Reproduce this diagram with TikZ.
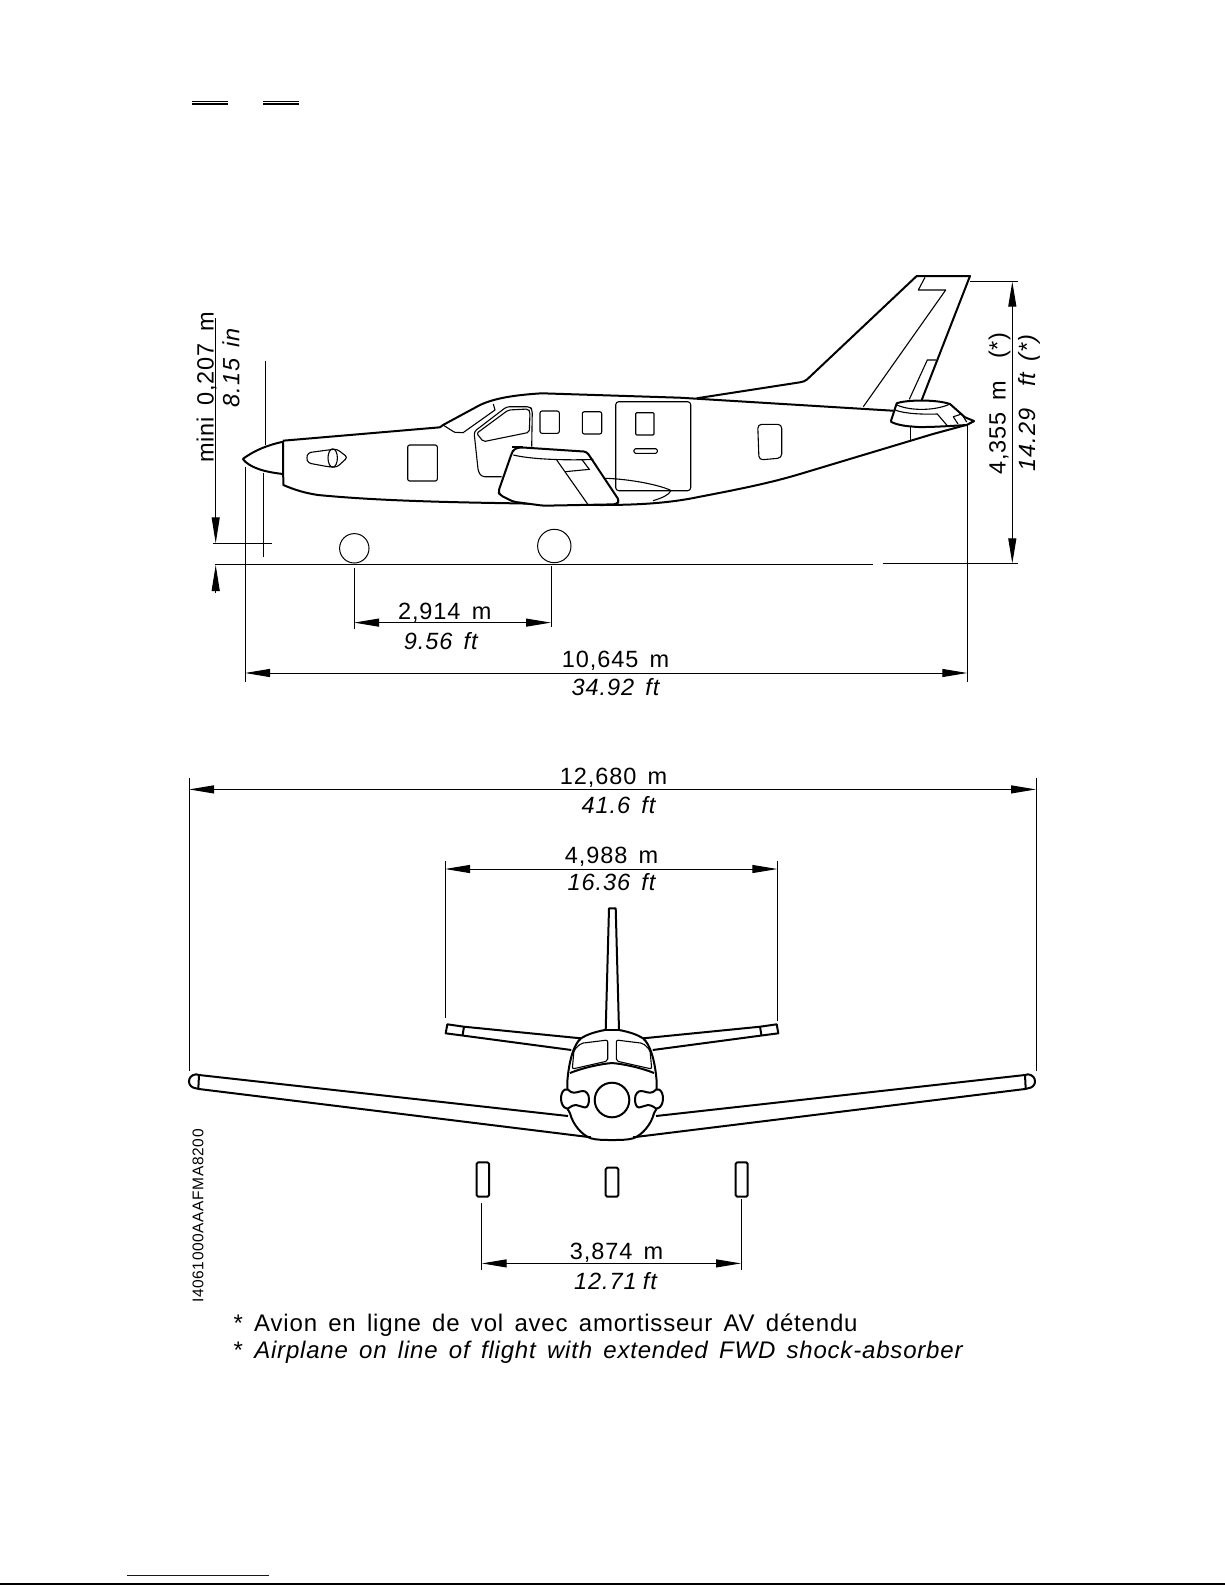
\documentclass[tikz,border=0pt]{standalone}
\usepackage{fontspec}
\setmainfont{Liberation Sans}[LetterSpace=4,WordSpace=1.5]
\definecolor{linkblue}{RGB}{0,0,205}
\usetikzlibrary{arrows.meta}
\tikzset{
  hull/.style={line width=2, line join=round},
  thin part/.style={line width=1.1, line join=round},
  leader/.style={line width=1},
  dimline/.style={line width=1, {Triangle[length=25,width=8]}-{Triangle[length=25,width=8]}},
  dimend/.style={line width=1, -{Triangle[length=26,width=8]}},
  dimlabel/.style={font=\fontsize{23.5}{25}\selectfont, inner sep=0},
  dimslant/.style={font=\fontsize{23.5}{25}\selectfont\itshape, inner sep=0},
  footnote/.style={font=\fontsize{24}{26}\selectfont\addfontfeature{LetterSpace=3.4}, inner sep=0, anchor=west},
  smallref/.style={font=\fontsize{15.5}{16}\selectfont, inner sep=0, rotate=90}
}

\begin{document}
\begin{tikzpicture}[x=1pt,y=-1pt]
  \useasboundingbox (0,0) rectangle (1225,1585);

  % page marks
  \fill (192,100.5) rectangle (228,101.5);
  \fill (192,103) rectangle (228,105.2);
  \fill (263,100.5) rectangle (299,101.5);
  \fill (263,103) rectangle (299,105.2);
  \draw[linkblue, line width=1] (127,1575.3) -- (269,1575.3);
  \draw[line width=1.6] (0,1584.2) -- (1225,1584.2);

  % side view: hull
  \draw[hull] (242.7,459) .. controls (255,450) and (268,445) .. (283,441.7) -- (283.3,485)
    .. controls (295,490) and (305,493) .. (318,495) .. controls (370,500) and (430,502) .. (513,503.3)
    -- (600,505) .. controls (640,505) and (670,503) .. (700,496.7) .. controls (740,489) and (770,483) .. (800,474)
    -- (933,434) -- (966,425) -- (974,421);
  \draw[hull] (242.7,459) .. controls (250,468) and (265,472) .. (283,474);
  \draw[hull] (283,440.7) -- (440,427.3) -- (443,425) -- (480,405)
    .. controls (495,398) and (515,395) .. (541.7,393.3) -- (680,397.7) -- (893,410.7);
  % side view: fin
  \draw[hull] (696.7,398.3) -- (800,382.3) .. controls (803,382) and (805,381) .. (807,379.5) -- (916.7,276) -- (970,276) -- (921.7,400);
  \draw[thin part] (925,277.3) -- (918.3,290) -- (945.7,290) -- (863.3,406.7);
  \draw[thin part] (909.3,399.3) -- (927.3,360) -- (936,360);
  % side view: stabilizer end
  \draw[hull, fill=white] (890.7,421.7) -- (896.7,403.3) .. controls (905,400) and (935,399) .. (950,404)
    -- (965,417.3) -- (974,421) -- (966.7,425) .. controls (950,426) and (920,428) .. (912,426.5) .. controls (903,426) and (895,424) .. (890.7,421.7);
  \draw[thin part] (897,405) .. controls (910,411) and (935,411) .. (950,404);
  \draw[thin part] (895,410) .. controls (905,414) and (925,414.5) .. (937.3,414) -- (947.3,425.7);
  \draw[thin part] (958,424) -- (953.3,416.7) -- (961.7,414) -- (966.7,422);
  \draw[thin part] (910.7,426.7) -- (910.7,441.7);
  % side view: cabin
  \draw[thin part, rounded corners=2] (407.7,445) rectangle (437.3,481);
  \draw[thin part, rounded corners=3] (308,452.7) -- (328,450) -- (336.7,449) -- (347.7,457.3) -- (336.7,467.3) -- (328,466.7) -- (308,463) -- (306.5,458) -- cycle;
  \draw[thin part] (332.7,458) ellipse (4.7 and 9.2);
  \draw[thin part] (443,425) .. controls (448,428) and (452,431) .. (455,432.3) -- (463,432.7) -- (495,410) -- (493.3,404);
  \draw[thin part, rounded corners=3] (501.7,476.7) -- (481.7,476.7) -- (478.3,471.7) -- (474,431.7) -- (506.7,406.7) -- (530,406.7) -- (532.3,410) -- (531.7,446.7);
  \draw[thin part, rounded corners=2] (476.7,433.3) -- (508.3,410) -- (528.3,409) -- (530,411.7) -- (529.3,432.3) -- (483.3,441.7) -- cycle;
  \draw[thin part, rounded corners=2] (540,411) rectangle (559.3,433.3);
  \draw[thin part, rounded corners=2] (582.3,411.7) rectangle (601.7,434);
  \draw[thin part, rounded corners=3] (615.7,401.7) rectangle (690.7,490.7);
  \draw[thin part, rounded corners=1] (635.7,412.7) rectangle (654,435);
  \draw[thin part, rounded corners=1.5] (634,448.7) rectangle (657.3,453.3);
  \draw[thin part, rounded corners=4] (757.7,424.3) -- (781.7,424.3) -- (781.7,458) -- (759,460) -- cycle;
  \draw[thin part] (605,478.3) .. controls (630,479) and (660,485) .. (671,490.5) .. controls (669,495) and (662,498) .. (653,500.7);
  % side view: wing
  \draw[hull, fill=white, rounded corners=3] (511.7,453.3) -- (514,449) -- (520,447.3) -- (586.7,451.7) -- (619.3,500.7) -- (616.7,504.3)
    -- (543.3,505.7) -- (513.3,501.7) -- (500,495) -- (498.3,491.7) -- cycle;
  \draw[thin part] (513.3,455) .. controls (530,459) and (560,460.5) .. (593.3,459.5);
  \draw[thin part] (556.7,460) -- (588.3,505);
  \draw[thin part] (565,471.7) -- (590,469.3);
  \draw[thin part] (581.7,459.3) -- (589.3,469.3);
  \draw[hull] (511.7,446.5) -- (523,446.5);
  % side view: wheels and ground
  \node[draw, circle, leader, minimum size=29.4, inner sep=0] (frontwheel) at (354.3,548.3) {};
  \node[draw, circle, leader, minimum size=33.4, inner sep=0] (mainwheel) at (554.3,546) {};
  \coordinate (groundL) at (215,564.3);
  \coordinate (groundM) at (873.3,564.3);
  \coordinate (groundN) at (882.7,563.7);
  \coordinate (groundR) at (1017.7,563.7);
  \draw[leader] (groundL) -- (groundM);
  \draw[leader] (groundN) -- (groundR);

  % side view: dimensions
  \coordinate (miniTop) at (215.7,318.3);
  \coordinate (miniA) at (215.7,543.3);
  \coordinate (miniB) at (215.7,565);
  \coordinate (miniEnd) at (215.7,593.3);
  \draw[dimend] (miniTop) -- (miniA);
  \draw[dimend] (miniEnd) -- (miniB);
  \draw[leader] (213.3,543.3) -- (272.3,543.3);
  \draw[leader] (265.3,360.7) -- (265.3,445);
  \draw[leader] (263.3,473.3) -- (263.3,557.3);
  \node[dimlabel, rotate=90] (miniM) at (206.5,387.5) {mini 0,207 m};
  \node[dimslant, rotate=90] (miniIn) at (231,367.5) {8.15 in};

  \coordinate (baseA) at (354,622.6);
  \coordinate (baseB) at (551,622.6);
  \draw[leader] (354,568.3) -- (354,628.7);
  \draw[leader] (551,566) -- (551,626.6);
  \draw[dimline] (baseA) -- (baseB);
  \node[dimlabel] (baseM) at (444.7,612.5) {2,914 m};
  \node[dimslant] (baseFt) at (440.7,641) {9.56 ft};

  \coordinate (lengthA) at (245,673);
  \coordinate (lengthB) at (967.3,673);
  \draw[leader] (245,466.7) -- (245,682);
  \draw[leader] (967.3,425) -- (967.3,682);
  \draw[dimline] (lengthA) -- (lengthB);
  \node[dimlabel] (lengthM) at (615.5,661) {10,645 m};
  \node[dimslant] (lengthFt) at (615.5,687) {34.92 ft};

  \coordinate (heightA) at (1012.3,281.7);
  \coordinate (heightB) at (1012.3,563.3);
  \draw[leader] (970,281.7) -- (1017.7,281.7);
  \draw[dimline] (heightA) -- (heightB);
  \node[dimlabel, rotate=90] (heightM) at (999.5,403.5) {4,355 m\ \ (*)};
  \node[dimslant, rotate=90] (heightFt) at (1029,403) {14.29\ \ ft (*)};

  % front view, both halves from the centre line
  \begin{scope}[shift={(612,0)}]
    \foreach \sgn in {1,-1} {
      \begin{scope}[xscale=\sgn]
        % wing
        \draw[hull] (44,1116) -- (413,1075) -- (416,1074.3) .. controls (421,1075) and (423,1078) .. (423,1081.7)
          .. controls (423,1085) and (420,1088) .. (416,1088.3) -- (413,1089) -- (21,1137.3);
        \draw[hull] (413,1075) -- (413.7,1089);
        % stabilizer
        \draw[hull] (31.3,1038.3) -- (148,1026.7) -- (164.7,1024.3) -- (166.3,1033.3) -- (148,1035.7) -- (40.7,1050);
        \draw[hull] (148,1026.7) -- (149.5,1035.7);
        % fuselage side
        \draw[hull] (7,1030) .. controls (18,1032) and (26,1035) .. (31,1038.3) .. controls (38,1044) and (43,1060) .. (44.7,1081.7) -- (44.7,1090);
        \draw[hull] (44.7,1108.3) -- (42,1113.3) .. controls (39,1125) and (30,1135) .. (21.3,1138.3) .. controls (15,1140) and (8,1140) .. (0,1140);
        % engine lobe
        \draw[hull, fill=white] (23,1099) .. controls (23,1094) and (26,1091) .. (29,1091)
          .. controls (33,1091) and (37,1094) .. (41,1092) .. controls (43,1090) and (45,1088.5) .. (47,1089.5)
          .. controls (50,1091) and (51,1095) .. (51,1098.5) .. controls (51,1103) and (49,1108) .. (45,1108.5)
          .. controls (43,1109) and (41,1105) .. (36,1105) .. controls (33,1105) and (30,1107.5) .. (27,1107.5)
          .. controls (24,1107.5) and (23,1103) .. (23,1099) -- cycle;
        % windshield
        \draw[thin part, rounded corners=2] (4.3,1040) -- (31,1043.3) -- (38,1050) -- (39.7,1069) -- (4.3,1061) -- cycle;
        \draw[hull] (0,1063) .. controls (12,1064) and (30,1068) .. (42,1073);
      \end{scope}
    }
    % fin
    \draw[hull] (-6.3,1030) -- (-3,908.3) -- (3.7,908.3) -- (7,1030);
    \draw[hull] (-7,1030) -- (7,1030);
    \node[draw, circle, hull, minimum size=34.6, inner sep=0] (spinner) at (0,1100) {};
  \end{scope}

  % front view: gear
  \draw[hull, rounded corners=1.5] (476.7,1162.3) rectangle (489,1196.7);
  \draw[hull, rounded corners=1.5] (605.7,1167.7) rectangle (618.3,1196.7);
  \draw[hull, rounded corners=1.5] (735.7,1162.3) rectangle (747.7,1196.7);

  % front view: dimensions
  \coordinate (spanA) at (189,789.4);
  \coordinate (spanB) at (1036,789.4);
  \draw[leader] (189,778) -- (189,1071);
  \draw[leader] (1036,778) -- (1036,1071);
  \draw[dimline] (spanA) -- (spanB);
  \node[dimlabel] (spanM) at (613.5,778) {12,680 m};
  \node[dimslant] (spanFt) at (618.5,805) {41.6 ft};

  \coordinate (tailA) at (445,869);
  \coordinate (tailB) at (777.3,869);
  \draw[leader] (445,861) -- (445,1018.3);
  \draw[leader] (777.3,861) -- (777.3,1020.7);
  \draw[dimline] (tailA) -- (tailB);
  \node[dimlabel] (tailM) at (611.5,856.5) {4,988 m};
  \node[dimslant] (tailFt) at (611.5,882.4) {16.36 ft};

  \coordinate (trackA) at (481.7,1263.4);
  \coordinate (trackB) at (741,1263.4);
  \draw[leader] (481.7,1203.3) -- (481.7,1269.5);
  \draw[leader] (741,1199) -- (741,1269.5);
  \draw[dimline] (trackA) -- (trackB);
  \node[dimlabel] (trackM) at (616.5,1253) {3,874 m};
  \node[dimslant] (trackFt) at (615.5,1280.6) {12.71\hspace{-5pt} ft};

  % reference and notes
  \node[smallref] (docref) at (198,1216) {I4061000AAAFMA8200};
  \node[footnote] (noteFr) at (233.5,1325.5) {* Avion en ligne de vol avec amortisseur AV détendu};
  \node[footnote] (noteEn) at (233.5,1352.5) {* \itshape Airplane on line of flight with extended FWD shock-absorber};
\end{tikzpicture}
\end{document}
